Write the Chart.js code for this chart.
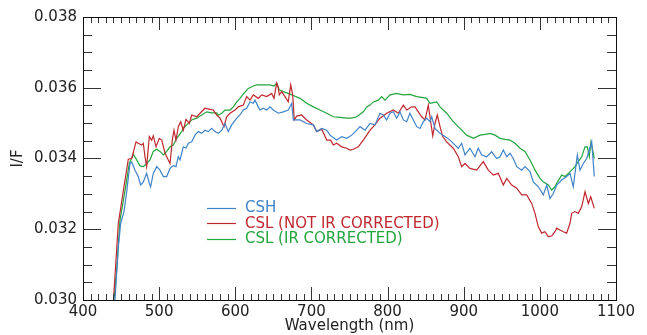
<!DOCTYPE html>
<html>
<head>
<meta charset="utf-8">
<script src="https://cdn.jsdelivr.net/npm/chart.js@4/dist/chart.umd.min.js"></script>
<style>
  html, body { margin: 0; padding: 0; background: #ffffff; }
  #c { display: block; }
</style>
</head>
<body>
<canvas id="c" width="647" height="335"></canvas>
<script>
// ---- Data ----
const seriesLabels = ["CSH", "CSL (NOT IR CORRECTED)", "CSL (IR CORRECTED)"];
const xTickValues = [400, 500, 600, 700, 800, 900, 1000, 1100];
const yTickValues = [0.030, 0.032, 0.034, 0.036, 0.038];

const cshWl = [442.0,446.4,449.5,453.8,457.4,461.7,464.0,468.3,472.6,475.7,479.2,483.6,487.1,488.8,492.3,496.8,501.1,505.5,509.9,514.3,518.6,522.1,525.2,527.4,531.7,535.3,538.3,542.8,547.1,551.4,555.9,560.2,564.6,569.0,573.4,577.7,582.2,586.5,590.8,595.3,601.9,606.2,610.5,615.0,619.3,623.6,625.9,630.2,632.5,636.8,641.3,645.6,649.9,656.5,663.0,669.6,674.1,676.2,685.0,693.8,702.5,707.0,713.5,720.1,724.4,733.2,739.8,746.3,752.9,759.5,763.8,770.4,777.0,783.5,790.0,794.4,798.8,803.2,807.5,812.0,816.3,820.7,825.1,829.4,833.8,838.3,842.6,846.9,851.4,855.7,858.0,862.3,868.9,875.4,882.0,888.6,892.9,897.3,901.7,908.2,914.8,919.1,923.6,930.2,936.7,943.3,947.6,952.0,956.5,960.8,965.1,969.6,976.2,980.5,987.1,991.4,998.0,1004.5,1009.0,1013.3,1017.7,1022.1,1028.7,1035.2,1039.6,1043.9,1049.2,1052.7,1057.1,1061.5,1064.9,1068.1,1071.5];
const cshIF = [0.0300,0.03151,0.03217,0.03250,0.03306,0.03386,0.03390,0.03367,0.03349,0.03325,0.03334,0.03358,0.03330,0.03320,0.03358,0.03377,0.03367,0.03349,0.03349,0.03372,0.03380,0.03377,0.03405,0.03396,0.03433,0.03429,0.03443,0.03447,0.03466,0.03476,0.03471,0.03480,0.03476,0.03485,0.03476,0.03471,0.03480,0.03499,0.03476,0.03495,0.03514,0.03523,0.03537,0.03542,0.03560,0.03556,0.03565,0.03546,0.03537,0.03542,0.03537,0.03546,0.03537,0.03528,0.03532,0.03537,0.03556,0.03509,0.03509,0.03499,0.03495,0.03476,0.03485,0.03480,0.03466,0.03452,0.03462,0.03457,0.03466,0.03480,0.03490,0.03480,0.03499,0.03495,0.03528,0.03523,0.03509,0.03528,0.03532,0.03514,0.03532,0.03509,0.03504,0.03528,0.03509,0.03490,0.03485,0.03504,0.03514,0.03504,0.03518,0.03485,0.03471,0.03462,0.03452,0.03438,0.03429,0.03443,0.03410,0.03429,0.03405,0.03429,0.03410,0.03405,0.03419,0.03400,0.03405,0.03424,0.03405,0.03415,0.03400,0.03377,0.03367,0.03377,0.03363,0.03334,0.03320,0.03297,0.03325,0.03287,0.03301,0.03325,0.03339,0.03349,0.03358,0.03320,0.03410,0.03367,0.03386,0.03400,0.03424,0.03447,0.03349];

const cslWl = [440.0,446.4,453.8,459.5,464.0,469.6,472.6,477.1,479.2,481.4,483.6,487.1,490.2,492.3,495.9,500.2,503.4,507.7,512.0,514.3,517.3,519.5,522.1,525.2,528.3,531.7,535.3,539.6,542.8,549.3,553.7,560.2,566.8,571.1,575.6,580.0,585.2,588.7,593.1,599.6,604.0,610.5,615.0,619.3,623.7,630.2,634.7,641.3,647.8,650.8,654.4,656.1,657.8,661.0,665.3,669.6,672.8,675.4,677.5,680.7,687.2,693.8,702.5,707.0,713.5,720.1,725.3,728.7,733.2,739.8,746.3,750.7,755.0,761.6,768.1,772.6,777.0,781.3,790.1,798.8,807.5,814.1,820.7,825.1,831.7,836.0,840.4,844.8,849.2,853.5,855.7,859.3,862.3,865.3,868.9,872.4,877.6,886.3,892.9,897.3,901.7,908.2,917.0,925.7,932.3,938.9,945.4,952.0,956.5,963.0,969.6,976.2,982.7,989.3,993.6,998.0,1002.4,1006.7,1011.1,1015.5,1019.9,1022.1,1026.4,1030.8,1035.2,1039.6,1041.8,1046.1,1050.5,1055.0,1059.3,1063.7,1066.8,1071.5];
const cslIF = [0.0300,0.03217,0.03320,0.03398,0.03400,0.03447,0.03443,0.03438,0.03443,0.03405,0.03377,0.03462,0.03452,0.03464,0.03433,0.03457,0.03452,0.03415,0.03396,0.03386,0.03452,0.03480,0.03452,0.03490,0.03504,0.03480,0.03511,0.03499,0.03523,0.03518,0.03528,0.03542,0.03539,0.03537,0.03523,0.03514,0.03490,0.03518,0.03528,0.03537,0.03546,0.03551,0.03575,0.03565,0.03580,0.03570,0.03580,0.03575,0.03584,0.03570,0.03613,0.03603,0.03580,0.03589,0.03575,0.03560,0.03608,0.03580,0.03509,0.03520,0.03523,0.03509,0.03495,0.03476,0.03483,0.03452,0.03452,0.03438,0.03443,0.03433,0.03429,0.03424,0.03426,0.03433,0.03452,0.03466,0.03480,0.03490,0.03514,0.03528,0.03537,0.03528,0.03551,0.03537,0.03546,0.03546,0.03532,0.03518,0.03509,0.03551,0.03518,0.03464,0.03499,0.03523,0.03490,0.03462,0.03447,0.03429,0.03405,0.03377,0.03386,0.03372,0.03367,0.03391,0.03367,0.03353,0.03358,0.03325,0.03344,0.03325,0.03316,0.03297,0.03297,0.03273,0.03245,0.03207,0.03189,0.03193,0.03179,0.03181,0.03193,0.03203,0.03198,0.03193,0.03189,0.03217,0.03245,0.03250,0.03245,0.03264,0.03306,0.03273,0.03292,0.03259];

const cslIrWl = [440.7,444.3,448.6,455.2,460.8,466.1,470.5,474.9,479.2,483.7,488.0,492.3,496.8,501.1,505.5,509.9,514.3,518.6,523.1,529.6,531.7,536.2,542.8,549.3,555.9,562.5,569.0,575.6,577.7,582.2,586.5,593.1,597.4,601.9,606.2,610.5,617.1,623.7,628.1,632.5,639.0,645.6,650.8,654.4,657.8,663.0,669.6,676.2,685.0,693.8,702.5,711.2,720.1,728.7,737.5,746.3,752.9,759.5,768.1,772.6,777.0,781.3,787.9,792.3,796.6,803.2,812.0,820.7,829.5,838.3,846.9,851.4,855.7,860.1,864.5,868.9,877.6,886.3,895.1,903.9,912.6,921.4,930.2,934.5,941.1,947.6,954.2,960.8,967.4,974.0,980.5,987.1,993.7,1000.2,1004.5,1011.1,1015.5,1019.9,1022.1,1028.7,1033.0,1037.4,1041.8,1046.1,1050.5,1055.0,1059.3,1062.3,1064.9,1067.2,1071.5];
const cslIrIF = [0.0300,0.03085,0.03226,0.03310,0.03386,0.03412,0.03396,0.03379,0.03377,0.03386,0.03396,0.03420,0.03426,0.03420,0.03410,0.03420,0.03433,0.03438,0.03457,0.03476,0.03485,0.03495,0.03509,0.03514,0.03523,0.03532,0.03529,0.03529,0.03523,0.03528,0.03537,0.03537,0.03546,0.03560,0.03570,0.03582,0.03598,0.03605,0.03608,0.03608,0.03608,0.03608,0.03605,0.03613,0.03594,0.03589,0.03584,0.03578,0.03570,0.03556,0.03546,0.03537,0.03528,0.03518,0.03516,0.03514,0.03514,0.03518,0.03532,0.03546,0.03551,0.03560,0.03565,0.03575,0.03565,0.03580,0.03584,0.03580,0.03581,0.03575,0.03572,0.03570,0.03556,0.03558,0.03560,0.03546,0.03528,0.03504,0.03485,0.03466,0.03457,0.03466,0.03469,0.03471,0.03466,0.03457,0.03454,0.03452,0.03443,0.03429,0.03420,0.03396,0.03367,0.03344,0.03334,0.03325,0.03311,0.03320,0.03330,0.03353,0.03349,0.03358,0.03367,0.03377,0.03391,0.03405,0.03433,0.03433,0.03405,0.03447,0.03400];

// ---- Styles ----
const seriesColors = ["#3f83c8", "#c0282f", "#22a53c"];
const FONT = "'DejaVu Sans', sans-serif";
const TEXT = "#222222";

function toPoints(xs, ys) { return xs.map((x, i) => ({ x: x, y: ys[i] })); }

const datasets = [
  { label: seriesLabels[0], data: toPoints(cshWl, cshIF) },
  { label: seriesLabels[1], data: toPoints(cslWl, cslIF) },
  { label: seriesLabels[2], data: toPoints(cslIrWl, cslIrIF) }
].map((d, i) => Object.assign(d, {
  borderColor: seriesColors[i],
  backgroundColor: seriesColors[i],
  borderWidth: 1.2,
  pointRadius: 0,
  tension: 0,
  fill: false
}));

// Inward ticks on all four sides + frame
const frameTicks = {
  id: 'frameTicks',
  afterDatasetsDraw(chart) {
    const { ctx, chartArea: a, scales } = chart;
    const xs = scales.x, ys = scales.y;
    ctx.save();
    ctx.strokeStyle = '#333333';
    ctx.lineWidth = 1;
    ctx.beginPath();
    for (let v = 400; v <= 1100; v += 10) {
      const major = (v % 100 === 0);
      const len = major ? 13 : 6;
      const px = Math.round(xs.getPixelForValue(v)) + 0.5;
      ctx.moveTo(px, a.bottom); ctx.lineTo(px, a.bottom - len);
      ctx.moveTo(px, a.top); ctx.lineTo(px, a.top + len);
    }
    for (let k = 0; k <= 16; k++) {
      const v = 0.030 + k * 0.0005;
      const major = (k % 4 === 0);
      const len = major ? 18 : 9;
      const py = Math.round(ys.getPixelForValue(v)) + 0.5;
      ctx.moveTo(a.left, py); ctx.lineTo(a.left + len, py);
      ctx.moveTo(a.right, py); ctx.lineTo(a.right - len, py);
    }
    ctx.stroke();
    ctx.strokeStyle = '#111111';
    ctx.strokeRect(Math.round(a.left) + 0.5, Math.round(a.top) + 0.5,
                   Math.round(a.right - a.left), Math.round(a.bottom - a.top));
    ctx.restore();
  }
};

// Legend drawn inside the plot
const innerLegend = {
  id: 'innerLegend',
  afterDraw(chart) {
    const { ctx } = chart;
    const x0 = 207, x1 = 236, tx = 245;
    const rows = [208, 223.3, 238.5];
    ctx.save();
    ctx.font = "15px " + FONT;
    ctx.textBaseline = 'middle';
    chart.data.datasets.forEach((d, i) => {
      const y = Math.round(rows[i]) + 0.5;
      ctx.strokeStyle = d.borderColor;
      ctx.lineWidth = 1.2;
      ctx.beginPath(); ctx.moveTo(x0, y); ctx.lineTo(x1, y); ctx.stroke();
      ctx.fillStyle = d.borderColor;
      ctx.fillText(d.label, tx, rows[i] + 0.5);
    });
    ctx.restore();
  }
};

new Chart(document.getElementById('c'), {
  type: 'line',
  data: { datasets: datasets },
  options: {
    responsive: false,
    animation: false,
    devicePixelRatio: 1,
    layout: { padding: { top: 17, right: 31, left: 0, bottom: 0 } },
    plugins: { legend: { display: false }, tooltip: { enabled: false } },
    scales: {
      x: {
        type: 'linear',
        min: 400, max: 1100,
        afterBuildTicks: (s) => { s.ticks = xTickValues.map(v => ({ value: v })); },
        afterFit: (s) => { s.height = 35; },
        grid: { display: false, drawTicks: false },
        border: { display: false },
        ticks: {
          autoSkip: false, maxRotation: 0, padding: 3,
          color: TEXT, font: { family: FONT, size: 15 },
          callback: (v) => String(v)
        },
        title: { display: true, text: 'Wavelength (nm)', color: TEXT,
                 font: { family: FONT, size: 15 }, padding: { top: 0, bottom: 0 } }
      },
      y: {
        type: 'linear',
        min: 0.030, max: 0.038,
        afterBuildTicks: (s) => { s.ticks = yTickValues.map(v => ({ value: v })); },
        afterFit: (s) => { s.width = 83; },
        grid: { display: false, drawTicks: false },
        border: { display: false },
        ticks: {
          autoSkip: false, padding: 6,
          color: TEXT, font: { family: FONT, size: 15 },
          callback: (v) => Number(v).toFixed(3)
        },
        title: { display: true, text: 'I/F', color: TEXT,
                 font: { family: FONT, size: 15 }, padding: { top: 9, bottom: 0 } }
      }
    }
  },
  plugins: [frameTicks, innerLegend]
});
</script>
</body>
</html>
